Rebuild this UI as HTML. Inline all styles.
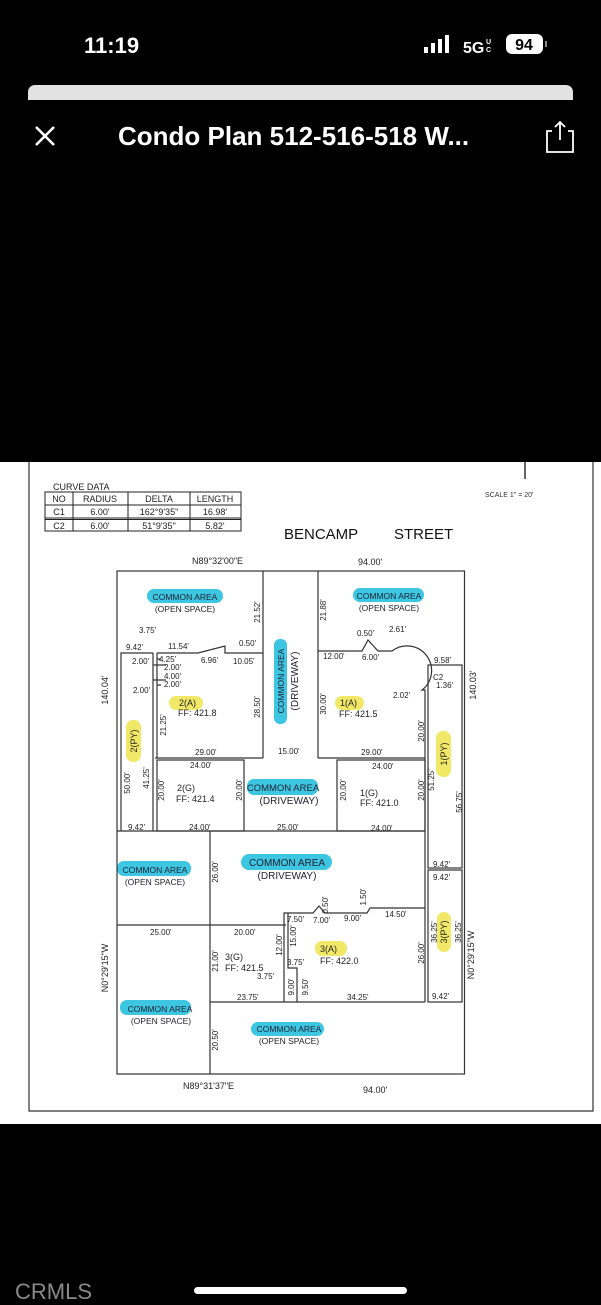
<!DOCTYPE html>
<html><head><meta charset="utf-8"><style>
html,body{margin:0;padding:0;background:#000;}
svg{display:block}
</style></head><body>
<svg width="601" height="1305" viewBox="0 0 601 1305" xmlns="http://www.w3.org/2000/svg" font-family="Liberation Sans, sans-serif">
<rect width="601" height="1305" fill="#000"/>
<!-- status bar -->
<text x="84" y="53" fill="#fff" font-size="22" font-weight="bold">11:19</text>
<rect x="424" y="47" width="4" height="6" fill="#fff"/><rect x="431" y="43" width="4" height="10" fill="#fff"/><rect x="438" y="39" width="4" height="14" fill="#fff"/><rect x="445" y="35" width="4" height="18" fill="#fff"/>
<text x="463" y="53" fill="#fff" font-size="16" font-weight="bold">5G</text>
<text x="486" y="44" fill="#fff" font-size="7" font-weight="bold">U</text><text x="486" y="52" fill="#fff" font-size="7" font-weight="bold">C</text>
<rect x="506" y="34" width="37" height="20" rx="6" fill="#fff"/>
<text x="524" y="50" fill="#000" font-size="16" font-weight="bold" text-anchor="middle">94</text>
<rect x="545" y="41" width="2" height="6" fill="#888"/>
<rect x="28" y="85" width="545" height="14" rx="7" fill="#e2e2e2"/>
<rect x="28" y="92" width="545" height="8" fill="#e2e2e2"/>
<!-- header -->
<path d="M36 127 L54 145 M54 127 L36 145" stroke="#fff" stroke-width="2.6"/>
<text x="118" y="145" fill="#fff" font-size="26" font-weight="bold">Condo Plan 512-516-518 W...</text>
<path d="M552 131 L547 131 L547 152 L573 152 L573 131 L568 131 M560 140 L560 122 M555 127 L560 122 L565 127" stroke="#fff" stroke-width="1.8" fill="none"/>
<!-- white page -->
<rect x="0" y="462" width="601" height="662" fill="#fff"/>
<path d="M29 462 L29 1111 L593 1111 L593 462" stroke="#333" stroke-width="1.2" fill="none"/>
<line x1="525" y1="462" x2="525" y2="479" stroke="#333" stroke-width="1.5"/>
<text x="485" y="497" font-size="7" fill="#333">SCALE 1" = 20'</text>
<!-- curve table -->
<text x="53" y="490" font-size="9" fill="#222">CURVE DATA</text>
<g stroke="#222" stroke-width="1" fill="none">
<rect x="45" y="492" width="196" height="39"/>
<line x1="45" y1="505" x2="241" y2="505"/><line x1="45" y1="518" x2="241" y2="518"/><line x1="45" y1="519.5" x2="241" y2="519.5"/>
<line x1="73" y1="492" x2="73" y2="531"/><line x1="128" y1="492" x2="128" y2="531"/><line x1="190" y1="492" x2="190" y2="531"/>
</g>
<g font-size="9" fill="#222" text-anchor="middle">
<text x="59" y="502">NO</text><text x="100" y="502">RADIUS</text><text x="159" y="502">DELTA</text><text x="215" y="502">LENGTH</text>
<text x="59" y="515">C1</text><text x="100" y="515">6.00'</text><text x="159" y="515">162°9'35"</text><text x="215" y="515">16.98'</text>
<text x="59" y="529">C2</text><text x="100" y="529">6.00'</text><text x="159" y="529">51°9'35"</text><text x="215" y="529">5.82'</text>
</g>
<text x="284" y="539" font-size="15" fill="#111">BENCAMP</text>
<text x="394" y="539" font-size="15" fill="#111">STREET</text>
<text x="192" y="564" font-size="9" fill="#222">N89°32'00"E</text>
<text x="358" y="565" font-size="9" fill="#222">94.00'</text>
<text x="183" y="1089" font-size="9" fill="#222">N89°31'37"E</text>
<text x="363" y="1093" font-size="9" fill="#222">94.00'</text>
<!-- highlights -->
<g fill="#3cc6e2">
<rect x="147" y="589" width="76" height="14" rx="7"/>
<rect x="353" y="588" width="71" height="14" rx="7"/>
<rect x="274" y="639" width="13" height="85" rx="6"/>
<rect x="247" y="779" width="71" height="16" rx="7"/>
<rect x="241" y="854" width="91" height="16" rx="8"/>
<rect x="117" y="861" width="74" height="15" rx="7"/>
<rect x="120" y="1000" width="71" height="15" rx="7"/>
<rect x="251" y="1022" width="73" height="14" rx="7"/>
</g>
<g fill="#f2e868">
<rect x="169" y="696" width="34" height="14" rx="7"/>
<rect x="335" y="696" width="29" height="14" rx="7"/>
<rect x="126" y="720" width="15" height="42" rx="7"/>
<rect x="436" y="731" width="15" height="46" rx="7"/>
<rect x="315" y="941" width="32" height="15" rx="7"/>
<rect x="437" y="912" width="14" height="40" rx="7"/>
</g>
<!-- lines -->
<g stroke="#333" stroke-width="1.2" fill="none">
<rect x="117" y="571" width="347.5" height="503"/>
<line x1="263" y1="571" x2="263" y2="758"/><line x1="318" y1="571" x2="318" y2="758"/>
<path d="M121 831 L121 653 L153 653 M157 653 L198 653 L225 646 L225 653 L263 653"/>
<path d="M153 653 L153 831 M157 653 L157 758 M157 659 L161 659 M153 665 L166 665 M153 680 L166 680 M157 685 L161 685"/>
<line x1="155" y1="758" x2="263" y2="758"/><line x1="318" y1="758" x2="425" y2="758"/>
<rect x="157" y="760" width="87" height="71"/><rect x="337" y="760" width="88" height="71"/>
<line x1="117" y1="831" x2="425" y2="831"/>
<path d="M318 651 L362 651 L368 640 L378 651 L392 651 A22 22 0 0 1 422 690 L425 690 L425 831"/>
<rect x="428" y="665" width="34" height="203"/>
<rect x="428" y="870" width="34" height="132"/>
<line x1="425" y1="831" x2="425" y2="1002"/>
<line x1="210" y1="831" x2="210" y2="1074"/>
<line x1="117" y1="925" x2="286" y2="925"/>
<path d="M284 1002 L284 913 L313 913 L319 906 L325 913 L367 913 L370 908 L425 908"/>
<path d="M288 913 L288 968 L297 968 L297 1002"/>
<line x1="210" y1="1002" x2="425" y2="1002"/>
</g>
<!-- area labels -->
<g font-size="8.5" fill="#223" text-anchor="middle">
<text x="185" y="600">COMMON AREA</text><text x="185" y="612">(OPEN SPACE)</text>
<text x="389" y="599">COMMON AREA</text><text x="389" y="611">(OPEN SPACE)</text>
<text x="281" y="684" transform="rotate(-90 281 681)">COMMON AREA</text>
<text x="295" y="684" transform="rotate(-90 295 681)" font-size="10">(DRIVEWAY)</text>
<text x="283" y="791" font-size="9.5">COMMON AREA</text><text x="289" y="804" font-size="10">(DRIVEWAY)</text>
<text x="287" y="866" font-size="10">COMMON AREA</text><text x="287" y="879" font-size="10">(DRIVEWAY)</text>
<text x="155" y="873">COMMON AREA</text><text x="155" y="885">(OPEN SPACE)</text>
<text x="160" y="1012">COMMON AREA</text><text x="161" y="1024">(OPEN SPACE)</text>
<text x="289" y="1032">COMMON AREA</text><text x="289" y="1044">(OPEN SPACE)</text>
</g>
<g font-size="9" fill="#222">
<text x="179" y="706">2(A)</text><text x="178" y="716">FF:  421.8</text>
<text x="340" y="706">1(A)</text><text x="339" y="717">FF:  421.5</text>
<text x="177" y="791">2(G)</text><text x="176" y="802">FF:  421.4</text>
<text x="360" y="796">1(G)</text><text x="360" y="806">FF:  421.0</text>
<text x="320" y="952">3(A)</text><text x="320" y="964">FF:  422.0</text>
<text x="225" y="960">3(G)</text><text x="225" y="971">FF:  421.5</text>
<text x="137" y="741" transform="rotate(-90 137 741)" text-anchor="middle">2(PY)</text>
<text x="447" y="754" transform="rotate(-90 447 754)" text-anchor="middle">1(PY)</text>
<text x="447" y="932" transform="rotate(-90 447 932)" text-anchor="middle">3(PY)</text>
</g>
<!-- dimensions -->
<g font-size="8" fill="#222">
<text x="139" y="633">3.75'</text><text x="126" y="650">9.42'</text><text x="168" y="649">11.54'</text>
<text x="239" y="646">0.50'</text><text x="201" y="663">6.96'</text><text x="233" y="664">10.05'</text>
<text x="132" y="664">2.00'</text><text x="159" y="662">4.25'</text><text x="164" y="670">2.00'</text><text x="164" y="679">4.00'</text><text x="164" y="687">2.00'</text><text x="133" y="693">2.00'</text>
<text x="357" y="636">0.50'</text><text x="389" y="632">2.61'</text><text x="323" y="659">12.00'</text><text x="362" y="660">6.00'</text>
<text x="434" y="663">9.58'</text><text x="433" y="680">C2</text><text x="436" y="688">1.36'</text><text x="393" y="698">2.02'</text>
<text x="195" y="755">29.00'</text><text x="278" y="754">15.00'</text><text x="361" y="755">29.00'</text>
<text x="190" y="768">24.00'</text><text x="372" y="769">24.00'</text>
<text x="128" y="830">9.42'</text><text x="189" y="830">24.00'</text><text x="277" y="830">25.00'</text><text x="371" y="831">24.00'</text>
<text x="433" y="867">9.42'</text><text x="433" y="880">9.42'</text>
<text x="150" y="935">25.00'</text><text x="234" y="935">20.00'</text>
<text x="287" y="922">7.50'</text><text x="313" y="923">7.00'</text><text x="344" y="921">9.00'</text><text x="385" y="917">14.50'</text>
<text x="287" y="965">3.75'</text><text x="257" y="979">3.75'</text>
<text x="237" y="1000">23.75'</text><text x="347" y="1000">34.25'</text><text x="432" y="999">9.42'</text>
</g>
<g font-size="8" fill="#222" text-anchor="middle">
<text transform="translate(260 612) rotate(-90)">21.52'</text>
<text transform="translate(326 610) rotate(-90)">21.88'</text>
<text transform="translate(260 707) rotate(-90)">28.50'</text>
<text transform="translate(326 704) rotate(-90)">30.00'</text>
<text transform="translate(166 725) rotate(-90)">21.25'</text>
<text transform="translate(424 731) rotate(-90)">20.00'</text>
<text transform="translate(130 783) rotate(-90)">50.00'</text>
<text transform="translate(149 778) rotate(-90)">41.25'</text>
<text transform="translate(164 790) rotate(-90)">20.00'</text>
<text transform="translate(242 790) rotate(-90)">20.00'</text>
<text transform="translate(346 790) rotate(-90)">20.00'</text>
<text transform="translate(424 790) rotate(-90)">20.00'</text>
<text transform="translate(434 780) rotate(-90)">51.25'</text>
<text transform="translate(462 802) rotate(-90)">56.75'</text>
<text transform="translate(218 872) rotate(-90)">26.00'</text>
<text transform="translate(328 905) rotate(-90)">0.50'</text>
<text transform="translate(366 897) rotate(-90)">1.50'</text>
<text transform="translate(282 945) rotate(-90)">12.00'</text>
<text transform="translate(296 936) rotate(-90)">15.00'</text>
<text transform="translate(218 961) rotate(-90)">21.00'</text>
<text transform="translate(424 953) rotate(-90)">26.00'</text>
<text transform="translate(437 932) rotate(-90)">36.25'</text>
<text transform="translate(461 932) rotate(-90)">36.25'</text>
<text transform="translate(294 987) rotate(-90)">9.00'</text>
<text transform="translate(308 987) rotate(-90)">9.50'</text>
<text transform="translate(218 1040) rotate(-90)">20.50'</text>
</g>
<g font-size="9" fill="#222" text-anchor="middle">
<text transform="translate(108 690) rotate(-90)">140.04'</text>
<text transform="translate(476 685) rotate(-90)">140.03'</text>
<text transform="translate(108 968) rotate(-90)">N0°29'15"W</text>
<text transform="translate(474 955) rotate(-90)">N0°29'15"W</text>
</g>
<!-- bottom -->
<rect x="194" y="1287" width="213" height="7" rx="3.5" fill="#fff"/>
<text x="15" y="1299" font-size="22" fill="#8a8a8a">CRMLS</text>
</svg>
</body></html>
